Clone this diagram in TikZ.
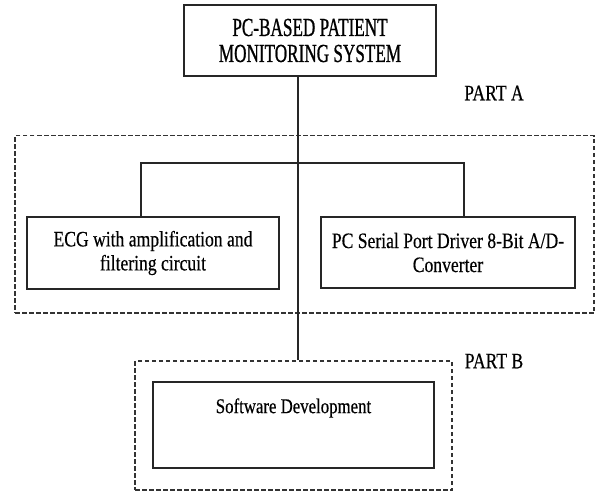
\documentclass[tikz,border=0pt]{standalone}
\usepackage{fontspec}
% condensed serif faces for the title and the block texts
\newfontfamily\titlefont[FakeStretch=0.66,FakeBold=0.8]{Liberation Serif}
\newfontfamily\bodyfont[FakeStretch=0.8,FakeBold=0.4]{Liberation Serif}
\begin{document}
\begin{tikzpicture}[x=1pt,y=-1pt,
  solidbox/.style={draw=black!85, line width=1.8pt, inner sep=0pt, align=center},
  dashbox/.style={draw=black!80, line width=1.4pt, dash pattern=on 4.5pt off 2.5pt, inner sep=0pt},
  link/.style={draw=black!85, line width=1.4pt},
  bodytext/.style={font=\bodyfont\fontsize{22}{24}\selectfont},
]
\useasboundingbox (0,0) rectangle (600,493);

% grouping frames
\node[dashbox, minimum width=579pt, minimum height=177.5pt] (partA) at (304.5,224.25) {};
\node[dashbox, minimum width=317pt, minimum height=129pt] (partB) at (293.5,425.5) {};

% blocks
\node[solidbox, minimum width=252pt, minimum height=71pt,
      font=\titlefont\fontsize{26}{26}\selectfont] (top) at (310,40.5)
      {PC-BASED PATIENT\\MONITORING SYSTEM};
\node[solidbox, bodytext, minimum width=252pt, minimum height=72pt] (ecg) at (153,253)
      {ECG with amplification and\\filtering circuit};
\node[solidbox, bodytext, minimum width=254pt, minimum height=71pt] (adc) at (448,252.5)
      {PC Serial Port Driver 8-Bit A/D-\\Converter};
\node[solidbox, minimum width=281pt, minimum height=86pt] (sw) at (293.5,425) {};
\node[bodytext, font=\bodyfont\fontsize{21}{23}\selectfont, anchor=base] (swtext)
      at ([yshift=-32pt]sw.north) {Software Development};

% frame labels
\node[bodytext] (labA) at (494,93) {PART A};
\node[bodytext] (labB) at (494,361) {PART B};

% connectors
\coordinate (stem) at (298,163);
\coordinate (lj) at (141,163);
\coordinate (rj) at (464,163);
\draw[link] (top.south -| stem) -- (partB.north -| stem);
\draw[link] (ecg.north -| lj) -- (lj) -- (rj) -- (adc.north -| rj);
\end{tikzpicture}
\end{document}
